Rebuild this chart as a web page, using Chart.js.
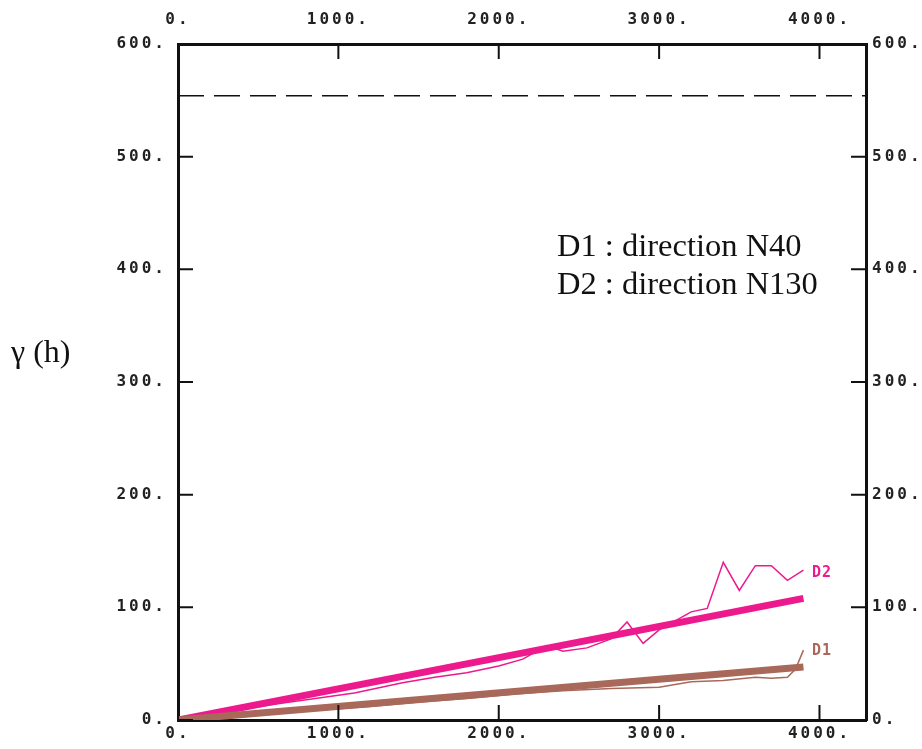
<!DOCTYPE html>
<html>
<head>
<meta charset="utf-8">
<script src="https://cdn.jsdelivr.net/npm/chart.js@4.4.0/dist/chart.umd.min.js"></script>
<style>
	html, body { margin: 0; padding: 0; background: #fff; overflow: hidden; }
	canvas { display: block; }
</style>
</head>
<body>
<canvas id="canvas" width="922" height="749"></canvas>
<script>
// experimental variogram, direction N130 (D2)
const lagD2   = [0, 300, 600, 900, 1100, 1400, 1600, 1800, 2000, 2150, 2300, 2400, 2550, 2700, 2800, 2900, 3000, 3100, 3200, 3300, 3400, 3500, 3600, 3700, 3800, 3900];
const gammaD2 = [0, 7, 14, 20, 24, 33, 38, 42, 48, 54, 66, 61, 64, 72, 87, 68, 80, 88, 96, 99, 140, 115, 137, 137, 124, 133];
// experimental variogram, direction N40 (D1)
const lagD1   = [0, 300, 600, 900, 1200, 1500, 1800, 2100, 2400, 2700, 3000, 3200, 3400, 3600, 3700, 3800, 3850, 3900];
const gammaD1 = [0, 3, 6, 9, 12, 16, 19, 23, 26, 28, 29, 34, 35, 38, 37, 38, 45, 62];
// fitted linear models
const modelLag = [0, 3900];
const modelD2  = [0, 108];
const modelD1  = [0, 47];
// sill (dashed)
const sillLag = [0, 4290];
const sill    = [554, 554];
// axes
const xMax = 4290, xTicks = [0, 1000, 2000, 3000, 4000];
const yMax = 600, yTicks = [0, 100, 200, 300, 400, 500, 600];

const PINK = '#ec1a8c';
const BROWN = '#a8695a';
const tickFont = { family: '"DejaVu Sans Mono", monospace', size: 16, weight: 'bold' };

const pts = (xs, ys) => xs.map((x, i) => ({ x, y: ys[i] }));
const fmt = v => v + '.';
const setTicks = vals => s => { s.ticks = vals.map(value => ({ value })); };

const insideTicks = {
	id: 'insideTicks',
	beforeDraw(c) { c.ctx.letterSpacing = '3px'; },
	afterDraw(c) {
		const { ctx, chartArea: a, scales } = c;
		ctx.save();
		ctx.letterSpacing = '0px';
		ctx.strokeStyle = '#111';
		ctx.lineWidth = 2;
		const len = 15;
		ctx.beginPath();
		scales.x.ticks.forEach(t => {
			const px = scales.x.getPixelForValue(t.value);
			ctx.moveTo(px, a.bottom); ctx.lineTo(px, a.bottom - len);
			ctx.moveTo(px, a.top); ctx.lineTo(px, a.top + len);
		});
		scales.y.ticks.forEach(t => {
			const py = scales.y.getPixelForValue(t.value);
			ctx.moveTo(a.left, py); ctx.lineTo(a.left + len, py);
			ctx.moveTo(a.right, py); ctx.lineTo(a.right - len, py);
		});
		ctx.stroke();

		// series labels
		ctx.font = 'bold 15px "DejaVu Sans Mono", monospace';
		ctx.letterSpacing = '1px';
		ctx.textBaseline = 'middle';
		ctx.fillStyle = PINK;
		ctx.fillText('D2', 812, 573);
		ctx.fillStyle = BROWN;
		ctx.fillText('D1', 812, 651);

		// legend text and axis title
		ctx.letterSpacing = '0px';
		ctx.fillStyle = '#111';
		ctx.textBaseline = 'alphabetic';
		ctx.font = '32.5px "Liberation Serif", "Times New Roman", serif';
		ctx.fillText('D1 : direction N40', 557, 256);
		ctx.fillText('D2 : direction N130', 557, 294);
		ctx.font = '32px "Liberation Serif", "Times New Roman", serif';
		ctx.fillText('\u03B3 (h)', 11, 362);
		ctx.restore();
	}
};

const axisBase = {
	type: 'linear',
	grid: { display: false, drawTicks: false, tickLength: 0 },
	border: { display: true, color: '#111', width: 3 },
	ticks: { font: tickFont, color: '#222', callback: fmt, includeBounds: false, maxRotation: 0, autoSkip: false }
};

new Chart(document.getElementById('canvas').getContext('2d'), {
	type: 'line',
	data: {
		datasets: [
			{ data: pts(sillLag, sill), xAxisID: 'x', yAxisID: 'y', borderColor: '#111', borderWidth: 1.5, borderDash: [26, 10] },
			{ data: pts(modelLag, modelD1), xAxisID: 'x', yAxisID: 'y', borderColor: BROWN, borderWidth: 7 },
			{ data: pts(modelLag, modelD2), xAxisID: 'x', yAxisID: 'y', borderColor: PINK, borderWidth: 7 },
			{ data: pts(lagD1, gammaD1), xAxisID: 'x', yAxisID: 'y', borderColor: BROWN, borderWidth: 1.5 },
			{ data: pts(lagD2, gammaD2), xAxisID: 'x', yAxisID: 'y', borderColor: PINK, borderWidth: 1.5 }
		]
	},
	options: {
		responsive: false,
		animation: false,
		layout: { padding: 0 },
		elements: { point: { radius: 0 }, line: { tension: 0 } },
		plugins: { legend: { display: false }, tooltip: { enabled: false } },
		scales: {
			x: { ...axisBase, position: 'bottom', min: 0, max: xMax,
				ticks: { ...axisBase.ticks, padding: 4 },
				afterBuildTicks: setTicks(xTicks),
				afterFit: s => { s.height = 29; } },
			x2: { ...axisBase, position: 'top', min: 0, max: xMax,
				ticks: { ...axisBase.ticks, padding: 15 },
				afterBuildTicks: setTicks(xTicks),
				afterFit: s => { s.height = 44; } },
			y: { ...axisBase, position: 'left', min: 0, max: yMax,
				ticks: { ...axisBase.ticks, padding: 11 },
				afterBuildTicks: setTicks(yTicks),
				afterFit: s => { s.width = 178; } },
			y2: { ...axisBase, position: 'right', min: 0, max: yMax,
				ticks: { ...axisBase.ticks, padding: 6 },
				afterBuildTicks: setTicks(yTicks),
				afterFit: s => { s.width = 56; } }
		}
	},
	plugins: [insideTicks]
});
</script>
</body>
</html>
